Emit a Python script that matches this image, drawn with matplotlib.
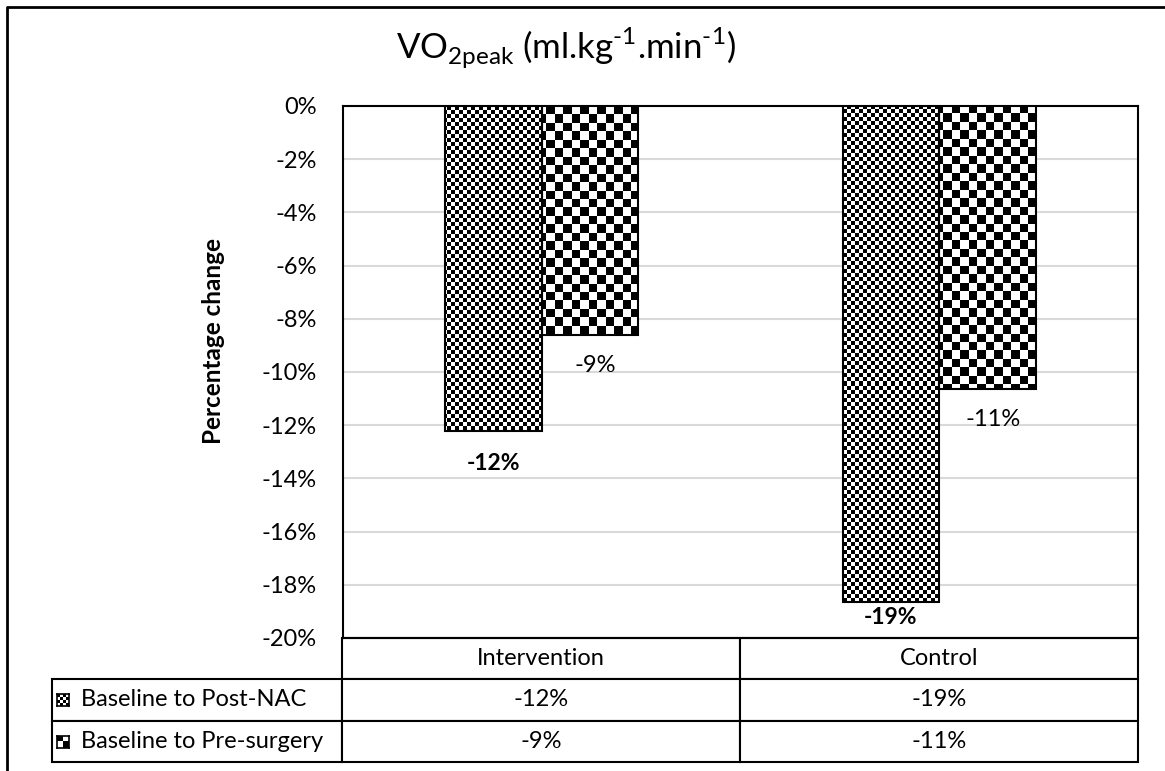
import numpy as np
import matplotlib
matplotlib.use('Agg')
import matplotlib.pyplot as plt
from matplotlib.lines import Line2D

plt.rcParams['font.family'] = ['Lato', 'DejaVu Sans']
plt.rcParams['mathtext.fontset'] = 'custom'
plt.rcParams['mathtext.rm'] = 'Lato'

groups = ['Intervention', 'Control']
series = ['Baseline to Post-NAC', 'Baseline to Pre-surgery']
post_nac = [-12.2, -18.65]
pre_surgery = [-8.6, -10.65]
yticks = list(range(0, -21, -2))

W, H = 1165, 771
fig = plt.figure(figsize=(W / 100, H / 100), dpi=100)
ax = fig.add_axes([343 / W, 1 - 638 / H, 795 / W, 532 / H])
ax.set_xlim(0, 2)
ax.set_ylim(-20, 0)


def checker(ny, nx):
    return np.indices((ny, nx)).sum(0) % 2


fine = checker(133, 199)
coarse = checker(63, 94)

bw = 0.243
xc = np.arange(len(groups)) + 0.5
bars1 = ax.bar(xc - bw / 2, post_nac, bw, facecolor='none', edgecolor='black', lw=1.5, zorder=4)
bars2 = ax.bar(xc + bw / 2, pre_surgery, bw, facecolor='none', edgecolor='black', lw=1.5, zorder=4)

# checkerboard fills, clipped to each bar
for bars, pat in [(bars1, fine), (bars2, coarse)]:
    for b in bars:
        im = ax.imshow(pat, cmap='gray', extent=[0, 2, -20, 0], aspect='auto',
                       interpolation='nearest', zorder=3)
        im.set_clip_path(b)
ax.set_xlim(0, 2)
ax.set_ylim(-20, 0)

# data labels
offs1 = [-24, -11]
for b, v, o in zip(bars1, post_nac, offs1):
    ax.annotate(f'{round(v):.0f}%', (b.get_x() + b.get_width() / 2, v), xytext=(0, o),
                textcoords='offset points', ha='center', va='center', fontsize=16.5, fontweight='bold')
for b, v in zip(bars2, pre_surgery):
    ax.annotate(f'{round(v):.0f}%', (b.get_x() + b.get_width() / 2, v), xytext=(4, -22),
                textcoords='offset points', ha='center', va='center', fontsize=17)

ax.set_yticks(yticks)
ax.set_yticklabels([f'{t}%' for t in yticks], fontsize=17)
ax.tick_params(axis='y', length=0, pad=19)
ax.set_xticks([])
ax.grid(axis='y', color='#d9d9d9', lw=1.5)
ax.set_axisbelow(True)
for s in ax.spines.values():
    s.set_linewidth(1.5)

ax.set_ylabel('Percentage change', fontsize=17.5, fontweight='bold')
ax.yaxis.set_label_coords(-0.148, 0.558)

# data table
cells = [[''] + groups,
         [series[0]] + [f'{round(v):.0f}%' for v in post_nac],
         [series[1]] + [f'{round(v):.0f}%' for v in pre_surgery]]
tab = ax.table(cellText=cells, colWidths=[290, 397.5, 397.5], cellLoc='center',
               bbox=[(52 - 343) / 795, -124 / 532, 1086 / 795, 124 / 532])
tab.auto_set_font_size(False)
for (r, c), cell in tab.get_celld().items():
    cell.set_fontsize(17)
    cell.set_linewidth(1.5)
    if c == 0:
        cell.get_text().set_ha('left')
        cell._loc = 'left'
    if r == 0 and c == 0:
        cell.visible_edges = ''

# legend keys in the table
for yk, n in [(706, 4), (748, 2)]:
    kax = fig.add_axes([57 / W, 1 - yk / H, 12 / W, 12 / H])
    kax.imshow(checker(n, n), cmap='gray', aspect='auto', interpolation='nearest')
    kax.set_xticks([])
    kax.set_yticks([])
    for s in kax.spines.values():
        s.set_linewidth(1.2)

fig.text(0.486, 1 - 48 / H,
         r'VO$_{\mathrm{2peak}}$ (ml.kg$^{\text{-1}}$.min$^{\text{-1}}$)',
         ha='center', va='center', fontsize=25)

# outer chart border
fig.add_artist(Line2D([7 / W, 7 / W, 1], [0, 1 - 7 / H, 1 - 7 / H], color='black', lw=2,
                      transform=fig.transFigure))

fig.savefig('out.png', dpi=100)
